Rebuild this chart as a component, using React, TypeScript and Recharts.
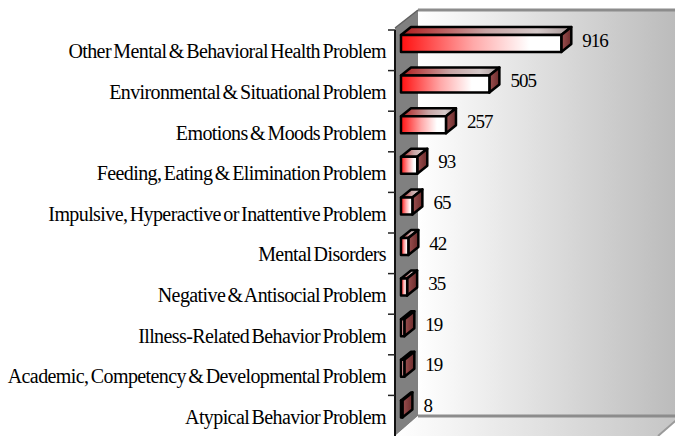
import React from 'react';
import { BarChart, Bar, XAxis, YAxis, LabelList } from 'recharts';

const categories = [
  'Other Mental & Behavioral Health Problem',
  'Environmental & Situational Problem',
  'Emotions & Moods Problem',
  'Feeding, Eating & Elimination Problem',
  'Impulsive, Hyperactive or Inattentive Problem',
  'Mental Disorders',
  'Negative & Antisocial Problem',
  'Illness-Related Behavior Problem',
  'Academic, Competency & Developmental Problem',
  'Atypical Behavior Problem',
];
const counts = [916, 505, 257, 93, 65, 42, 35, 19, 19, 8];

const data = categories.map((name, i) => ({ name, count: counts[i] }));

const W = 675;
const H = 436;
const TOP = 30;
const AXIS_X = 395;
const BAND = (H - TOP) / categories.length;
// 3d look: bar sits a bit inside the wall, with a top and side face
const SHIFT_X = 6;
const LIFT = 7;
const DX = 10;
const DY = 8;
const FONT = '"Liberation Serif", "Times New Roman", serif';

const Box3D = (props: any) => {
  const { x, y, width, height } = props;
  const x0 = x + SHIFT_X;
  const y0 = y - LIFT;
  const x1 = x0 + width;
  const y1 = y0 + height;
  return (
    <g stroke="#000" strokeWidth={2.5} strokeLinejoin="round">
      <polygon
        points={`${x0},${y0} ${x0 + DX},${y0 - DY} ${x1 + DX},${y0 - DY} ${x1},${y0}`}
        fill="url(#topFace)"
      />
      <polygon
        points={`${x1},${y0} ${x1 + DX},${y0 - DY} ${x1 + DX},${y1 - DY} ${x1},${y1}`}
        fill="url(#sideFace)"
      />
      <rect x={x0} y={y0} width={width} height={height} fill="url(#frontFace)" />
    </g>
  );
};

const ValueLabel = (props: any) => {
  const { x, y, width, value } = props;
  return (
    <text
      x={x + width + SHIFT_X + 21}
      y={y - 2}
      dominantBaseline="central"
      fontFamily={FONT}
      fontSize={19}
      letterSpacing={-1}
      fill="#000"
    >
      {value}
    </text>
  );
};

const CategoryTick = (props: any) => {
  const { x, y, payload } = props;
  return (
    <g>
      <line x1={x + 2} x2={x + 9} y1={y - BAND / 2} y2={y - BAND / 2} stroke="#222" strokeWidth={1.5} />
      <text
        x={x}
        y={y + 1}
        textAnchor="end"
        dominantBaseline="central"
        fontFamily={FONT}
        fontSize={20}
        letterSpacing={-0.6}
        wordSpacing={-2}
        fill="#000"
      >
        {payload.value}
      </text>
    </g>
  );
};

export default function App() {
  return (
    <div style={{ position: 'absolute', left: 0, top: 0, width: W, height: H, background: '#fff' }}>
      <svg width={W} height={H} style={{ position: 'absolute', left: 0, top: 0 }}>
        <defs>
          <linearGradient id="wall" x1="0" y1="0" x2="1" y2="0">
            <stop offset="0" stopColor="#ffffff" />
            <stop offset="1" stopColor="#b8b8b8" />
          </linearGradient>
          <linearGradient id="floor" x1="0" y1="0" x2="1" y2="0">
            <stop offset="0" stopColor="#ffffff" />
            <stop offset="1" stopColor="#c4c4c4" />
          </linearGradient>
          <linearGradient id="frontFace" x1="0" y1="0" x2="1" y2="0">
            <stop offset="0" stopColor="#ff1010" />
            <stop offset="0.45" stopColor="#ffa8a8" />
            <stop offset="0.8" stopColor="#ffffff" />
            <stop offset="1" stopColor="#ffffff" />
          </linearGradient>
          <linearGradient id="topFace" x1="0" y1="0" x2="1" y2="0">
            <stop offset="0" stopColor="#b01c1c" />
            <stop offset="0.5" stopColor="#c8a4a4" />
            <stop offset="0.8" stopColor="#d4c8c8" />
            <stop offset="1" stopColor="#a89898" />
          </linearGradient>
          <linearGradient id="sideFace" x1="0" y1="0" x2="1" y2="0">
            <stop offset="0" stopColor="#9c5050" />
            <stop offset="1" stopColor="#6c2c2c" />
          </linearGradient>
        </defs>
        <rect x={418} y={10} width={270} height={406} fill="url(#wall)" />
        <line x1={418} y1={10} x2={690} y2={10} stroke="#8c8c8c" strokeWidth={3} />
        <polygon points="395,28 418,10 418,416 395,436" fill="#808080" />
        <polygon points="418,416 681,416 658,436 395,436" fill="url(#floor)" />
        <line x1={418} y1={416} x2={681} y2={416} stroke="#8c8c8c" strokeWidth={3} />
        <line x1={658} y1={436} x2={681} y2={416} stroke="#9a9a9a" strokeWidth={2} />
        <line x1={395} y1={28} x2={418} y2={10} stroke="#606060" strokeWidth={1.5} />
      </svg>
      <BarChart
        width={W}
        height={H}
        data={data}
        layout="vertical"
        margin={{ top: TOP, right: 0, bottom: 0, left: 0 }}
        style={{ position: 'absolute', left: 0, top: 0 }}
      >
        <XAxis type="number" hide domain={[0, 1600]} />
        <YAxis
          type="category"
          dataKey="name"
          width={AXIS_X}
          tickSize={7}
          tickMargin={2}
          tickLine={false}
          axisLine={{ stroke: '#111', strokeWidth: 2 }}
          tick={<CategoryTick />}
          interval={0}
        />
        <Bar dataKey="count" barSize={17} shape={(p: any) => <Box3D {...p} />} isAnimationActive={false}>
          <LabelList dataKey="count" content={<ValueLabel />} />
        </Bar>
      </BarChart>
    </div>
  );
}
